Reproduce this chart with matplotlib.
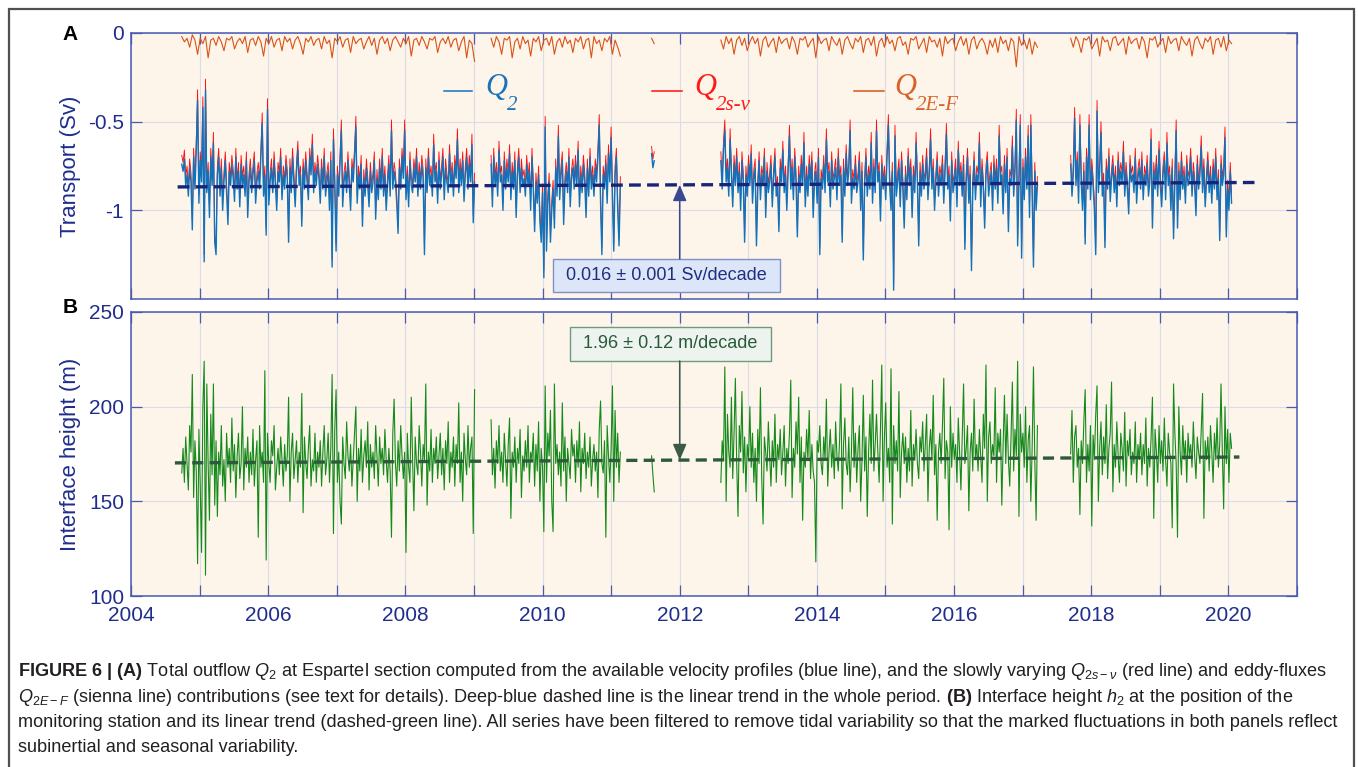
import numpy as np
import matplotlib
matplotlib.use('Agg')
import matplotlib.pyplot as plt
from matplotlib import font_manager
from matplotlib.lines import Line2D
from matplotlib.patches import Rectangle

W, H = 1358, 767

# the record is split into segments by data gaps (start year of each segment)
seg_start = [2004.74, 2009.25, 2011.59, 2012.60, 2017.70]
# Q2, Q2s-v and h2: one value per week
WEEKLY = 52
seg_len_w = [223, 99, 3, 241, 123]
# Q2E-F: one value every two weeks
BIWEEKLY = 26
seg_len_2w = [112, 50, 2, 121, 62]

# total outflow Q2, in 0.01 Sv
q2 = [
    # 2004.74 - 2009.01
    -74, -78, -71, -86, -80, -92, -76, -84, -111, -70, -88, -66, -38,
    -96, -72, -84, -42, -129, -32, -90, -78, -104, -70, -86, -62, -118,
    -125, -80, -70, -92, -76, -100, -84, -72, -90, -108, -78, -86, -74,
    -82, -95, -70, -88, -78, -98, -74, -86, -80, -92, -72, -104, -84,
    -76, -90, -80, -72, -96, -84, -78, -88, -70, -51, -92, -80, -114,
    -43, -97, -84, -76, -90, -72, -86, -100, -78, -84, -70, -94, -80,
    -88, -74, -82, -118, -76, -90, -70, -84, -98, -78, -66, -86, -80,
    -109, -76, -88, -72, -84, -94, -70, -80, -63, -90, -78, -86, -74,
    -82, -96, -76, -88, -70, -92, -84, -78, -100, -72, -132, -60, -86,
    -123, -80, -92, -74, -55, -98, -84, -78, -90, -72, -86, -100, -76,
    -84, -70, -53, -96, -80, -88, -74, -109, -82, -92, -76, -86, -98,
    -78, -90, -84, -72, -105, -82, -94, -76, -88, -70, -92, -80, -100,
    -86, -74, -92, -55, -88, -78, -84, -96, -113, -76, -88, -70, -82,
    -55, -94, -80, -98, -72, -86, -90, -76, -84, -70, -92, -78, -88,
    -74, -82, -125, -76, -90, -70, -86, -80, -92, -63, -84, -78, -96,
    -72, -88, -80, -70, -94, -76, -84, -90, -68, -86, -78, -92, -74,
    -82, -60, -90, -76, -86, -72, -95, -80, -70, -88, -74, -84, -63,
    -107, -84,
    # 2009.25 - 2011.14
    -74, -98, -70, -86, -78, -92, -66, -84, -80, -100, -72, -88, -76,
    -84, -68, -94, -78, -88, -72, -104, -80, -70, -90, -76, -86, -82,
    -92, -74, -86, -78, -100, -70, -88, -112, -84, -96, -80, -106, -118,
    -90, -138, -53, -123, -96, -84, -118, -100, -88, -110, -76, -92, -58,
    -94, -80, -72, -108, -86, -78, -90, -70, -98, -82, -76, -88, -74,
    -86, -66, -98, -80, -90, -74, -84, -104, -76, -92, -70, -88, -80,
    -92, -76, -84, -70, -52, -96, -125, -80, -88, -74, -96, -68, -84,
    -59, -92, -123, -80, -70, -100, -120, -86,
    # 2011.6
    -68, -76, -72,
    # 2012.60 - 2017.22
    -72, -88, -66, -55, -84, -76, -92, -60, -80, -98, -74, -86, -70,
    -90, -78, -100, -72, -84, -118, -80, -92, -74, -86, -68, -96, -82,
    -76, -120, -88, -72, -94, -80, -86, -70, -104, -78, -90, -84, -74,
    -98, -82, -70, -92, -86, -112, -76, -84, -66, -90, -80, -100, -78,
    -58, -88, -76, -94, -70, -84, -115, -80, -90, -74, -86, -62, -98,
    -80, -92, -74, -86, -72, -104, -84, -78, -96, -70, -125, -82, -88,
    -74, -90, -60, -84, -78, -98, -72, -88, -82, -76, -94, -70, -86,
    -80, -118, -76, -92, -68, -86, -78, -55, -96, -82, -88, -74, -90,
    -84, -72, -100, -78, -128, -86, -70, -92, -80, -88, -62, -96, -76,
    -90, -55, -84, -78, -106, -74, -88, -80, -94, -70, -52, -86, -100,
    -78, -145, -58, -92, -84, -76, -98, -72, -88, -110, -80, -94, -70,
    -86, -76, -104, -80, -90, -62, -84, -120, -78, -92, -74, -88, -82,
    -70, -94, -80, -60, -88, -76, -100, -84, -72, -92, -80, -86, -74,
    -96, -78, -57, -88, -80, -106, -72, -90, -84, -76, -98, -66, -86,
    -78, -92, -74, -122, -84, -70, -96, -80, -134, -88, -72, -94, -80,
    -84, -62, -98, -76, -88, -110, -80, -72, -92, -84, -78, -100, -74,
    -88, -76, -96, -58, -84, -80, -102, -74, -90, -70, -112, -82, -86,
    -64, -92, -78, -49, -120, -84, -52, -127, -76, -94, -70, -88, -58,
    -104, -52, -90, -132, -78, -100, -86,
    # 2017.70 - 2020.05
    -74, -92, -80, -48, -86, -72, -96, -52, -84, -100, -78, -119, -70,
    -88, -52, -94, -76, -86, -100, -125, -44, -90, -78, -56, -92, -84,
    -121, -76, -88, -70, -95, -82, -74, -90, -80, -98, -72, -86, -78,
    -84, -67, -92, -78, -88, -102, -74, -84, -80, -90, -70, -96, -82,
    -76, -88, -72, -94, -80, -86, -74, -92, -84, -60, -110, -78, -88,
    -74, -92, -66, -86, -98, -80, -72, -94, -62, -86, -80, -100, -76,
    -116, -84, -55, -110, -78, -94, -72, -88, -80, -96, -74, -86, -82,
    -70, -92, -78, -86, -103, -74, -88, -80, -64, -90, -76, -98, -84,
    -72, -90, -80, -96, -76, -88, -70, -94, -82, -117, -74, -86, -80,
    -59, -115, -88, -100, -78, -96,
]

# slowly varying part Q2s-v, in 0.01 Sv
q2sv = [
    -69, -73, -66, -81, -75, -87, -71, -79, -106, -65, -83, -61, -32,
    -91, -67, -79, -36, -125, -26, -85, -73, -99, -65, -81, -56, -114,
    -121, -75, -65, -87, -71, -95, -79, -67, -85, -103, -73, -81, -69,
    -77, -90, -65, -83, -73, -93, -69, -81, -75, -87, -67, -99, -79,
    -71, -85, -75, -67, -91, -79, -73, -83, -65, -45, -87, -75, -110,
    -37, -92, -79, -71, -85, -67, -81, -95, -73, -79, -65, -89, -75,
    -83, -69, -77, -114, -71, -85, -65, -79, -93, -73, -61, -81, -75,
    -105, -71, -83, -67, -79, -89, -65, -75, -57, -85, -73, -81, -69,
    -77, -91, -71, -83, -65, -87, -79, -73, -95, -67, -128, -54, -81,
    -119, -75, -87, -69, -49, -93, -79, -73, -85, -67, -81, -95, -71,
    -79, -65, -47, -91, -75, -83, -69, -105, -77, -87, -71, -81, -93,
    -73, -85, -79, -67, -101, -77, -89, -71, -83, -65, -87, -75, -95,
    -81, -69, -87, -49, -83, -73, -79, -91, -109, -71, -83, -65, -77,
    -49, -89, -75, -93, -67, -81, -85, -71, -79, -65, -87, -73, -83,
    -69, -77, -121, -71, -85, -65, -81, -75, -87, -57, -79, -73, -91,
    -67, -83, -75, -65, -89, -71, -79, -85, -63, -81, -73, -87, -69,
    -77, -54, -85, -71, -81, -67, -90, -75, -65, -83, -69, -79, -57,
    -103, -79,
    -69, -93, -65, -81, -73, -87, -61, -79, -75, -95, -67, -83, -71,
    -79, -63, -89, -73, -83, -67, -99, -75, -65, -85, -71, -81, -77,
    -87, -69, -81, -73, -95, -65, -83, -108, -79, -91, -75, -101, -114,
    -85, -134, -47, -119, -91, -79, -114, -95, -83, -105, -71, -87, -52,
    -89, -75, -67, -103, -81, -73, -85, -65, -93, -77, -71, -83, -69,
    -81, -61, -93, -75, -85, -69, -79, -99, -71, -87, -65, -83, -75,
    -87, -71, -79, -65, -46, -91, -121, -75, -83, -69, -91, -63, -79,
    -53, -87, -119, -75, -65, -95, -116, -81,
    -64, -71, -67,
    -67, -83, -61, -49, -79, -71, -87, -54, -75, -93, -69, -81, -65,
    -85, -73, -95, -67, -79, -114, -75, -87, -69, -81, -63, -91, -77,
    -71, -116, -83, -67, -89, -75, -81, -65, -99, -73, -85, -79, -69,
    -93, -77, -65, -87, -81, -108, -71, -79, -61, -85, -75, -95, -73,
    -52, -83, -71, -89, -65, -79, -111, -75, -85, -69, -81, -56, -93,
    -75, -87, -69, -81, -67, -99, -79, -73, -91, -65, -121, -77, -83,
    -69, -85, -54, -79, -73, -93, -67, -83, -77, -71, -89, -65, -81,
    -75, -114, -71, -87, -63, -81, -73, -49, -91, -77, -83, -69, -85,
    -79, -67, -95, -73, -124, -81, -65, -87, -75, -83, -56, -91, -71,
    -85, -49, -79, -73, -101, -69, -83, -75, -89, -65, -46, -81, -95,
    -73, -141, -52, -87, -79, -71, -93, -67, -83, -105, -75, -89, -65,
    -81, -71, -99, -75, -85, -56, -79, -116, -73, -87, -69, -83, -77,
    -65, -89, -75, -54, -83, -71, -95, -79, -67, -87, -75, -81, -69,
    -91, -73, -51, -83, -75, -101, -67, -85, -79, -71, -93, -61, -81,
    -73, -87, -69, -118, -79, -65, -91, -75, -130, -83, -67, -89, -75,
    -79, -56, -93, -71, -83, -105, -75, -67, -87, -79, -73, -95, -69,
    -83, -71, -91, -52, -79, -75, -97, -69, -85, -65, -108, -77, -81,
    -58, -87, -73, -43, -116, -79, -46, -123, -71, -89, -65, -83, -52,
    -99, -46, -85, -128, -73, -95, -81,
    -69, -87, -75, -42, -81, -67, -91, -46, -79, -95, -73, -115, -65,
    -83, -46, -89, -71, -81, -95, -121, -38, -85, -73, -50, -87, -79,
    -117, -71, -83, -65, -90, -77, -69, -85, -75, -93, -67, -81, -73,
    -79, -61, -87, -73, -83, -97, -69, -79, -75, -85, -65, -91, -77,
    -71, -83, -67, -89, -75, -81, -69, -87, -79, -54, -106, -73, -83,
    -69, -87, -61, -81, -93, -75, -67, -89, -56, -81, -75, -95, -71,
    -112, -79, -49, -106, -73, -89, -67, -83, -75, -91, -69, -81, -77,
    -65, -87, -73, -81, -98, -69, -83, -75, -58, -85, -71, -93, -79,
    -67, -85, -75, -91, -71, -83, -65, -89, -77, -113, -69, -81, -75,
    -53, -111, -83, -95, -73, -91,
]

# eddy-flux part Q2E-F, in 0.01 Sv (every two weeks)
q2ef = [
    -2, -5, -3, -8, -1, -4, -12, -3, -6, -2, -14, -4, -3,
    -7, -2, -5, -10, -3, -4, -2, -9, -5, -3, -6, -2, -11,
    -4, -3, -7, -2, -5, -13, -3, -6, -2, -8, -4, -3, -10,
    -2, -5, -3, -9, -4, -2, -6, -12, -3, -5, -2, -7, -4,
    -3, -9, -2, -6, -4, -14, -3, -5, -2, -8, -4, -3, -11,
    -2, -6, -4, -3, -9, -5, -2, -7, -3, -12, -4, -2, -6,
    -3, -10, -4, -2, -5, -8, -3, -6, -2, -13, -4, -3, -7,
    -2, -5, -9, -3, -4, -2, -11, -5, -3, -6, -2, -8, -4,
    -3, -10, -5, -2, -14, -4, -6, -16,
    -3, -8, -2, -5, -12, -3, -4, -2, -14, -5, -3, -9, -2,
    -6, -4, -13, -3, -5, -2, -10, -4, -3, -7, -2, -12, -5,
    -3, -8, -2, -6, -4, -11, -3, -5, -2, -9, -4, -3, -14,
    -2, -6, -4, -10, -3, -5, -2, -12, -4, -8, -13,
    -3, -6,
    -4, -9, -2, -6, -3, -12, -4, -2, -7, -3, -10, -5, -2,
    -6, -3, -13, -4, -2, -8, -5, -3, -11, -2, -6, -4, -3,
    -9, -2, -5, -12, -3, -4, -2, -8, -5, -3, -14, -2, -6,
    -4, -3, -10, -2, -5, -7, -3, -12, -4, -2, -6, -9, -3,
    -5, -2, -11, -4, -3, -7, -2, -13, -5, -3, -8, -2, -6,
    -4, -10, -3, -2, -7, -5, -12, -3, -4, -2, -9, -6, -3,
    -11, -2, -5, -4, -8, -3, -13, -2, -6, -4, -3, -10, -5,
    -2, -7, -3, -12, -4, -2, -9, -5, -3, -6, -12, -4, -8,
    -3, -11, -2, -6, -4, -10, -3, -5, -19, -2, -7, -4, -9,
    -3, -12, -5, -8,
    -3, -8, -2, -5, -11, -3, -4, -2, -9, -6, -3, -13, -2,
    -5, -4, -10, -3, -2, -7, -5, -3, -12, -2, -6, -4, -3,
    -9, -2, -5, -14, -3, -4, -2, -8, -5, -3, -11, -2, -6,
    -4, -3, -10, -2, -5, -7, -3, -13, -4, -2, -6, -9, -3,
    -5, -2, -12, -4, -3, -8, -2, -10, -4, -6,
]

# interface height h2, in m
h2 = [
    165, 178, 160, 184, 170, 156, 190, 176, 217, 152, 182, 166, 117,
    188, 158, 123, 200, 224, 111, 212, 170, 140, 196, 164, 212, 148,
    182, 142, 176, 164, 190, 158, 172, 150, 186, 168, 178, 160, 194,
    166, 180, 152, 174, 186, 162, 170, 200, 156, 178, 168, 184, 160,
    176, 164, 188, 158, 172, 182, 131, 190, 168, 176, 160, 219, 119,
    186, 170, 160, 182, 174, 190, 156, 168, 178, 164, 184, 172, 158,
    180, 166, 174, 205, 150, 176, 186, 162, 172, 182, 160, 176, 168,
    207, 144, 184, 170, 162, 178, 190, 158, 172, 166, 186, 160, 176,
    168, 182, 158, 176, 190, 164, 172, 186, 160, 178, 217, 133, 188,
    209, 160, 176, 150, 138, 184, 170, 162, 192, 174, 166, 180, 158,
    172, 186, 200, 150, 178, 166, 188, 160, 174, 182, 168, 192, 156,
    180, 168, 176, 162, 190, 174, 158, 184, 170, 178, 164, 188, 172,
    160, 178, 166, 131, 186, 204, 170, 158, 182, 166, 190, 174, 162,
    176, 123, 186, 168, 160, 205, 172, 145, 184, 170, 164, 190, 176,
    158, 180, 172, 212, 148, 176, 166, 188, 160, 178, 170, 184, 162,
    174, 186, 164, 178, 156, 182, 170, 192, 160, 176, 168, 184, 158,
    180, 170, 202, 160, 176, 150, 186, 172, 164, 190, 168, 178, 184,
    133, 209,
    193, 164, 178, 157, 182, 170, 190, 166, 176, 160, 186, 172, 158,
    180, 194, 141, 176, 168, 184, 160, 178, 170, 188, 152, 174, 166,
    182, 168, 190, 160, 176, 172, 186, 158, 180, 166, 192, 150, 178,
    168, 134, 211, 160, 186, 174, 198, 150, 134, 212, 170, 180, 164,
    176, 158, 202, 166, 184, 150, 178, 170, 162, 188, 174, 180, 160,
    182, 168, 192, 155, 178, 170, 186, 162, 176, 168, 184, 158, 172,
    180, 166, 176, 152, 188, 203, 170, 165, 182, 131, 190, 174, 160,
    178, 211, 150, 198, 168, 186, 160, 176,
    174, 164, 155,
    160, 182, 172, 221, 150, 196, 176, 168, 205, 162, 186, 215, 170,
    142, 190, 176, 208, 165, 184, 155, 180, 172, 200, 168, 186, 160,
    178, 150, 188, 170, 210, 162, 138, 184, 176, 166, 192, 174, 158,
    182, 168, 196, 160, 180, 172, 188, 164, 176, 190, 158, 178, 170,
    186, 214, 152, 178, 168, 192, 175, 205, 160, 184, 140, 176, 168,
    188, 172, 198, 162, 180, 166, 160, 118, 182, 176, 190, 170, 164,
    184, 172, 204, 158, 176, 188, 168, 180, 162, 192, 174, 166, 182,
    212, 146, 180, 194, 170, 164, 184, 155, 176, 210, 168, 186, 160,
    178, 190, 150, 172, 206, 166, 184, 142, 176, 196, 170, 214, 166,
    180, 196, 176, 160, 188, 222, 150, 184, 202, 168, 178, 160, 220,
    138, 190, 170, 182, 166, 208, 152, 176, 186, 170, 184, 160, 178,
    166, 198, 158, 180, 172, 188, 170, 162, 184, 176, 192, 166, 180,
    196, 150, 178, 188, 172, 206, 164, 180, 140, 176, 186, 170, 190,
    215, 162, 182, 176, 135, 200, 168, 186, 172, 180, 160, 194, 176,
    156, 184, 212, 170, 178, 190, 145, 176, 186, 166, 204, 172, 180,
    166, 188, 174, 160, 196, 178, 222, 150, 184, 192, 170, 180, 174,
    210, 160, 186, 176, 188, 148, 180, 206, 170, 196, 172, 158, 184,
    213, 166, 188, 174, 224, 142, 196, 176, 186, 168, 200, 160, 182,
    190, 150, 178, 221, 172, 140, 190,
    175, 198, 160, 184, 190, 168, 178, 143, 182, 170, 192, 209, 160,
    180, 166, 190, 137, 185, 172, 196, 211, 150, 178, 192, 164, 184,
    170, 201, 162, 178, 186, 213, 155, 180, 168, 192, 174, 160, 186,
    178, 166, 197, 158, 182, 174, 188, 164, 176, 170, 192, 160, 180,
    172, 186, 164, 180, 170, 194, 158, 178, 168, 184, 205, 141, 188,
    176, 160, 190, 170, 182, 166, 194, 172, 158, 186, 176, 170, 136,
    212, 186, 170, 131, 200, 176, 164, 190, 172, 182, 160, 186, 174,
    180, 168, 192, 174, 162, 184, 176, 170, 188, 207, 141, 182, 172,
    184, 166, 190, 176, 160, 186, 172, 194, 168, 180, 212, 176, 146,
    200, 170, 188, 160, 186, 178,
]

# linear trends (end points of the dashed lines)
trend_years_q2 = [2004.68, 2020.38]
trend_q2 = [-0.868, -0.843]
trend_years_h2 = [2004.64, 2020.16]
trend_h2 = [170.3, 173.4]
trend_mark_year = 2012
q2_trend_label = '0.016 \u00b1 0.001 Sv/decade'
h2_trend_label = '1.96 \u00b1 0.12 m/decade'

year_ticks = list(range(2004, 2022))

for name, vals, lens in [('q2', q2, seg_len_w), ('q2sv', q2sv, seg_len_w),
                         ('q2ef', q2ef, seg_len_2w), ('h2', h2, seg_len_w)]:
    assert len(vals) == sum(lens), (name, len(vals))

# colours
BG = '#FDF5EA'
EDGE = '#4A5AB0'
NAVY = '#1F2D8C'
GRID = '#DCDCE6'
BLUE = '#1172BC'
RED = '#FF1010'
SIENNA = '#D95319'
GREEN = '#15891A'
TREND_A = '#17247A'
TREND_B = '#2D5A3C'

plt.rcParams['font.family'] = ['Liberation Sans', 'DejaVu Sans']
plt.rcParams['lines.scale_dashes'] = False
plt.rcParams['axes.unicode_minus'] = False

names = {f.name for f in font_manager.fontManager.ttflist}
cap_font = 'Liberation Sans Narrow' if 'Liberation Sans Narrow' in names else 'Liberation Sans'
plt.rcParams['mathtext.fontset'] = 'custom'
plt.rcParams['mathtext.rm'] = cap_font
plt.rcParams['mathtext.it'] = cap_font + ':italic'
plt.rcParams['mathtext.bf'] = cap_font + ':bold'


def fx(x):
    return x / W


def fy(y):
    return 1 - y / H


def segments(values, per_year, lens, scale=1.0):
    out = []
    pos = 0
    for start, n in zip(seg_start, lens):
        t = start + np.arange(n) / per_year
        v = np.asarray(values[pos:pos + n], dtype=float) * scale
        out.append((t, v))
        pos += n
    return out


def style(ax, ylim, yticks, ylabels, show_x):
    ax.set_facecolor(BG)
    ax.set_xlim(2004, 2021)
    ax.set_ylim(*ylim)
    ax.set_xticks(year_ticks)
    ax.set_xticklabels([str(y) if (show_x and y % 2 == 0) else '' for y in year_ticks])
    ax.set_yticks(yticks)
    ax.set_yticklabels(ylabels)
    ax.grid(True, color=GRID, lw=0.8)
    ax.set_axisbelow(True)
    for s in ax.spines.values():
        s.set_color(EDGE)
        s.set_linewidth(1.1)
    ax.tick_params(direction='in', length=8, width=0.9, color=EDGE,
                   top=True, right=True, labelcolor=NAVY, labelsize=15)
    ax.tick_params(axis='x', pad=7)
    ax.tick_params(axis='y', pad=5)


fig = plt.figure(figsize=(W / 100, H / 100), dpi=100)

# outer frame
fig.add_artist(Rectangle((fx(8.5), -0.05), fx(1354) - fx(8.5), fy(9) + 0.05,
                         transform=fig.transFigure, fill=False,
                         ec='#505050', lw=1.6, clip_on=False))

axA = fig.add_axes([fx(131), fy(299), fx(1297) - fx(131), fy(33) - fy(299)])
axB = fig.add_axes([fx(131), fy(596), fx(1297) - fx(131), fy(312) - fy(596)])

# ---- panel A: transports
for t, v in segments(q2sv, WEEKLY, seg_len_w, 0.01):
    axA.plot(t, v, color=RED, lw=0.65)
for t, v in segments(q2, WEEKLY, seg_len_w, 0.01):
    axA.plot(t, v, color=BLUE, lw=1.0)
for t, v in segments(q2ef, BIWEEKLY, seg_len_2w, 0.01):
    axA.plot(t, v, color=SIENNA, lw=0.8)
axA.plot(trend_years_q2, trend_q2, color=TREND_A, lw=2.4, dashes=(8.5, 4.5))
style(axA, (-1.5, 0), [-1, -0.5, 0], ['-1', '-0.5', '0'], False)
axA.set_ylabel('Transport (Sv)', fontsize=16, color=NAVY)
axA.yaxis.set_label_coords(-(131 - 81) / 1166, 0.5)

# trend box A
bx0, bx1, by0, by1 = 553, 780, 259, 292
axA.add_patch(Rectangle(((bx0 - 131) / 1166, 1 - (by1 - 33) / 266),
                        (bx1 - bx0) / 1166, (by1 - by0) / 266,
                        transform=axA.transAxes, fc='#DCE6F8', ec='#7F8FC8', lw=1.0, zorder=5))
axA.text(((bx0 + bx1) / 2 - 131) / 1166, 1 - ((by0 + by1) / 2 - 33) / 266, q2_trend_label,
         transform=axA.transAxes, ha='center', va='center', fontsize=13, color='#1F2F80', zorder=6)
tipA = np.interp(trend_mark_year, trend_years_q2, trend_q2)
axA.annotate('', xy=(trend_mark_year, tipA), xycoords='data',
             xytext=(trend_mark_year, 1 - (by0 - 33) / 266), textcoords=('data', 'axes fraction'),
             arrowprops=dict(arrowstyle='-|>,head_length=0.7,head_width=0.3', color='#3A4894',
                             lw=1.1, shrinkA=0, shrinkB=0, mutation_scale=14), zorder=6)

# ---- panel B: interface height
for t, v in segments(h2, WEEKLY, seg_len_w):
    axB.plot(t, v, color=GREEN, lw=0.8)
axB.plot(trend_years_h2, trend_h2, color=TREND_B, lw=2.4, dashes=(8.0, 4.5))
style(axB, (100, 250), [100, 150, 200, 250], ['100', '150', '200', '250'], True)
axB.set_ylabel('Interface height (m)', fontsize=16, color=NAVY)
axB.yaxis.set_label_coords(-(131 - 81) / 1166, 0.5)

bx0, bx1, by0, by1 = 570, 771, 327, 361
axB.add_patch(Rectangle(((bx0 - 131) / 1166, 1 - (by1 - 312) / 284),
                        (bx1 - bx0) / 1166, (by1 - by0) / 284,
                        transform=axB.transAxes, fc='#EDF3EE', ec='#6F9A7C', lw=1.0, zorder=5))
axB.text(((bx0 + bx1) / 2 - 131) / 1166, 1 - ((by0 + by1) / 2 - 312) / 284, h2_trend_label,
         transform=axB.transAxes, ha='center', va='center', fontsize=13, color='#2A5A3A', zorder=6)
tipB = np.interp(trend_mark_year, trend_years_h2, trend_h2)
axB.annotate('', xy=(trend_mark_year, tipB), xycoords='data',
             xytext=(trend_mark_year, 1 - (by1 - 312) / 284), textcoords=('data', 'axes fraction'),
             arrowprops=dict(arrowstyle='-|>,head_length=0.7,head_width=0.3', color='#3C5A46',
                             lw=1.1, shrinkA=0, shrinkB=0, mutation_scale=14), zorder=6)

# panel letters
fig.text(fx(70), fy(35), 'A', fontsize=15, fontweight='bold', ha='center', va='center')
fig.text(fx(70), fy(307), 'B', fontsize=15, fontweight='bold', ha='center', va='center')

# legend
legend_items = [
    (444, 472, 485, '2', BLUE, '#1A72BB'),
    (652, 682, 694, '2s-v', RED, '#FF1A1A'),
    (854, 884, 894, '2E-F', SIENNA, '#D9622B'),
]
for lx0, lx1, qx, sub, lc, tc in legend_items:
    fig.add_artist(Line2D([fx(lx0), fx(lx1)], [fy(91), fy(91)], transform=fig.transFigure,
                          color=lc, lw=1.1))
    fig.text(fx(qx), fy(95), 'Q', fontsize=22, family='Liberation Serif', style='italic',
             color=tc, ha='left', va='baseline')
    fig.text(fx(qx + 22), fy(110), sub, fontsize=15, family='Liberation Serif', style='italic',
             color=tc, ha='left', va='baseline')

# caption
cap_lines = [
    r'$\mathbf{FIGURE\ 6\ |\ (A)}$ Total outflow $Q_2$ at Espartel section computed from the available '
    r'velocity profiles (blue line), and the slowly varying $Q_{2s-\nu}$ (red line) and eddy-fluxes',
    r'$Q_{2E-F}$ (sienna line) contributions (see text for details). Deep-blue dashed line is the linear '
    r'trend in the whole period. $\mathbf{(B)}$ Interface height $h_2$ at the position of the',
    'monitoring station and its linear trend (dashed-green line). All series have been filtered to '
    'remove tidal variability so that the marked fluctuations in both panels reflect',
    'subinertial and seasonal variability.',
]
cap_base = [676, 701.5, 727, 752.5]
cap_texts = [fig.text(fx(18), fy(b), s, fontsize=12, family=cap_font, color='#231F20',
                      ha='left', va='baseline') for s, b in zip(cap_lines, cap_base)]
renderer = fig.canvas.get_renderer()
w1 = cap_texts[0].get_window_extent(renderer).width
size = 12 * (1322 - 18) / w1
for t in cap_texts:
    t.set_fontsize(size)

fig.savefig('out.png', dpi=100, facecolor='white')
